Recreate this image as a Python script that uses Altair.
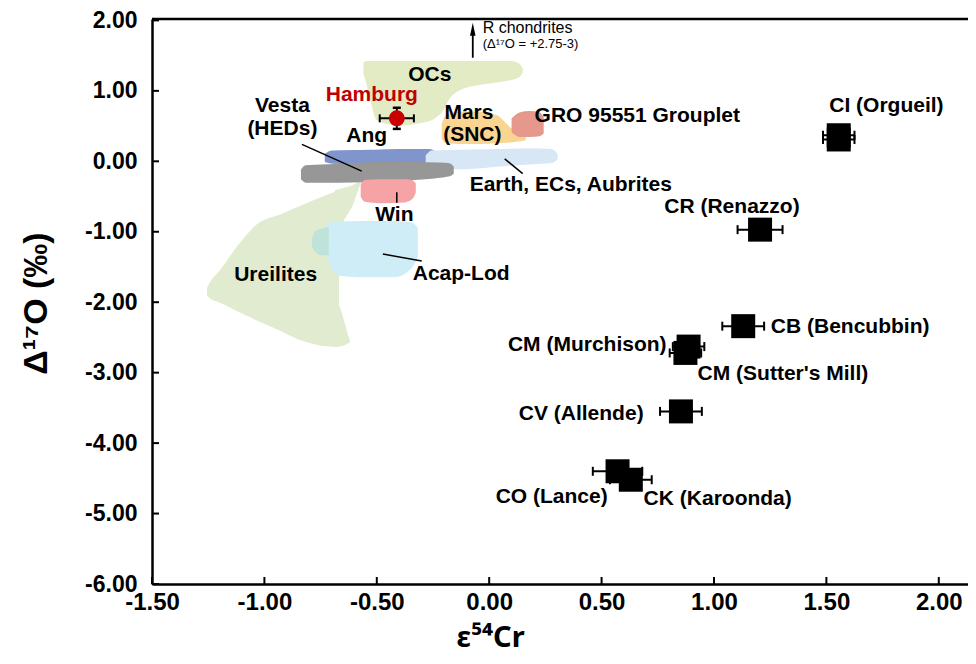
import altair as alt
import pandas as pd

W, H = 816, 565
X_DOMAIN = [-1.5, 2.13]
Y_DOMAIN = [-6.0, 2.02]
x_ticks = [-1.5, -1.0, -0.5, 0.0, 0.5, 1.0, 1.5, 2.0]
y_ticks = [-6.0, -5.0, -4.0, -3.0, -2.0, -1.0, 0.0, 1.0, 2.0]

# ---- carbonaceous chondrites (black squares, x error bars)
cc_x = [1.555, 1.555, 1.205, 1.13, 0.887, 0.873, 0.853, 0.571, 0.630]
cc_y = [0.37, 0.31, -0.97, -2.34, -2.63, -2.72, -3.55, -4.40, -4.52]
cc_err = [0.07, 0.07, 0.10, 0.093, 0.07, 0.07, 0.093, 0.11, 0.093]

# ---- Hamburg
ham_x = [-0.411]
ham_y = [0.61]
ham_xerr = [0.076]
ham_yerr = [0.15]

# ---- fields (x, top, bottom)
ure1_x = [-1.251, -1.238, -1.198, -1.109, -1.029, -0.931, -0.842, -0.753, -0.673]
ure1_top = [-1.80, -1.72, -1.57, -1.18, -0.90, -0.77, -0.65, -0.53, -0.43]
ure1_bot = [-1.90, -1.94, -1.99, -2.13, -2.25, -2.39, -2.52, -2.60, -2.62]
ure2_x = [-0.682, -0.656, -0.633, -0.611, -0.593, -0.576]
ure2_top = [-0.42, -0.40, -0.38, -0.36, -0.33, -0.30]
ure2_bot = [-1.00, -0.86, -0.74, -0.62, -0.46, -0.31]
ure3_x = [-0.682, -0.664, -0.647, -0.629, -0.624]
ure3_top = [-1.95, -2.12, -2.30, -2.50, -2.54]
ure3_bot = [-2.61, -2.61, -2.60, -2.57, -2.56]
acap_x = [-0.722, -0.70, -0.664, -0.576, -0.42, -0.362, -0.336, -0.322]
acap_top = [-0.93, -0.88, -0.87, -0.86, -0.86, -0.87, -0.90, -0.95]
acap_bot = [-1.30, -1.50, -1.61, -1.63, -1.63, -1.55, -1.45, -1.35]
teal_x = [-0.784, -0.771, -0.744, -0.718]
teal_top = [-1.10, -1.00, -0.97, -0.95]
teal_bot = [-1.20, -1.28, -1.32, -1.32]
ocs_x = [-0.555, -0.54, -0.52, -0.50, -0.45, -0.40, -0.30, -0.25, -0.21, -0.18, -0.12, 0.00, 0.10, 0.13, 0.145]
ocs_top = [1.40, 1.41, 1.41, 1.41, 1.41, 1.41, 1.41, 1.41, 1.41, 1.41, 1.41, 1.41, 1.41, 1.38, 1.31]
ocs_bot = [1.25, 1.08, 0.82, 0.60, 0.54, 0.52, 0.56, 0.61, 0.72, 0.90, 1.04, 1.12, 1.17, 1.20, 1.26]
mars_x = [-0.207, -0.189, -0.131, -0.042, 0.033, 0.091, 0.158]
mars_top = [0.52, 0.65, 0.69, 0.69, 0.64, 0.47, 0.36]
mars_bot = [0.32, 0.27, 0.26, 0.26, 0.27, 0.28, 0.31]
gro_x = [0.104, 0.136, 0.18, 0.224, 0.238]
gro_top = [0.60, 0.68, 0.70, 0.68, 0.62]
gro_bot = [0.42, 0.36, 0.36, 0.37, 0.40]
blue_x = [-0.727, -0.70, -0.531, -0.398, -0.264, -0.238]
blue_top = [0.10, 0.14, 0.15, 0.16, 0.16, 0.12]
blue_bot = [0.00, -0.02, -0.03, -0.03, -0.02, 0.00]
earth_x = [-0.278, -0.256, -0.131, 0.047, 0.18, 0.278, 0.30]
earth_top = [0.08, 0.14, 0.15, 0.16, 0.17, 0.16, 0.10]
earth_bot = [-0.05, -0.10, -0.10, -0.06, -0.03, -0.01, 0.03]
gray_x = [-0.833, -0.816, -0.664, -0.442, -0.22, -0.176, -0.162]
gray_top = [-0.12, -0.07, -0.05, -0.02, -0.03, -0.04, -0.08]
gray_bot = [-0.25, -0.29, -0.29, -0.27, -0.22, -0.20, -0.17]
win_x = [-0.567, -0.553, -0.487, -0.376, -0.344, -0.331]
win_top = [-0.33, -0.28, -0.27, -0.27, -0.28, -0.32]
win_bot = [-0.50, -0.56, -0.58, -0.57, -0.52, -0.44]

pieces = [
    ("01_ure1", ure1_x, ure1_top, ure1_bot, "#e1ebcf"),
    ("02_ure2", ure2_x, ure2_top, ure2_bot, "#e1ebcf"),
    ("03_ure3", ure3_x, ure3_top, ure3_bot, "#e1ebcf"),
    ("04_acap", acap_x, acap_top, acap_bot, "#cfedf6"),
    ("05_teal", teal_x, teal_top, teal_bot, "#bfe3d8"),
    ("06_ocs", ocs_x, ocs_top, ocs_bot, "#e2ebc4"),
    ("07_mars", mars_x, mars_top, mars_bot, "#fad592"),
    ("08_gro", gro_x, gro_top, gro_bot, "#e6988c"),
    ("09_blue", blue_x, blue_top, blue_bot, "#7f95cc"),
    ("10_earth", earth_x, earth_top, earth_bot, "#d8e7f6"),
    ("11_gray", gray_x, gray_top, gray_bot, "#979797"),
    ("12_win", win_x, win_top, win_bot, "#f6a3a6"),
]

# ---- leader lines
ln_x = [-0.833, 0.069, -0.411, -0.473]
ln_y = [0.24, 0.035, -0.44, -1.317]
ln_x2 = [-0.567, 0.149, -0.411, -0.30]
ln_y2 = [-0.14, -0.174, -0.59, -1.415]

# ---- R chondrites arrow
arr_x = [-0.073]
arr_y = [1.47]
arr_y2 = [1.86]
arr_head = [1.875]

# ---- labels
lab_c = ["OCs", "Hamburg", "Vesta", "(HEDs)", "Ang", "Mars", "(SNC)", "Win", "Ureilites",
         "CI (Orgueil)", "CR (Renazzo)"]
lab_c_x = [-0.264, -0.522, -0.92, -0.92, -0.545, -0.09, -0.075, -0.422, -0.95, 1.767, 1.08]
lab_c_y = [1.22, 0.94, 0.78, 0.46, 0.355, 0.69, 0.38, -0.76, -1.62, 0.79, -0.655]
lab_c_col = ["black", "#c00000"] + ["black"] * 9
lab_l = ["GRO 95551 Grouplet", "Earth, ECs, Aubrites", "Acap-Lod", "CB (Bencubbin)",
         "CM (Sutter's Mill)", "CK (Karoonda)"]
lab_l_x = [0.202, -0.087, -0.34, 1.253, 0.927, 0.687]
lab_l_y = [0.65, -0.34, -1.60, -2.35, -3.02, -4.80]
lab_r = ["CM (Murchison)", "CV (Allende)", "CO (Lance)"]
lab_r_x = [0.789, 0.687, 0.527]
lab_r_y = [-2.61, -3.59, -4.76]
note = ["R chondrites", "(Δ¹⁷O = +2.75-3)"]
note_x = [-0.029, -0.029]
note_y = [1.89, 1.66]
note_size = [16, 13]

FONT = "Liberation Sans"
TFONT = "Liberation Sans, Noto Sans"
XTFONT = "Noto Sans, Liberation Sans"

xs = alt.Scale(domain=X_DOMAIN, nice=False, zero=False)
ys = alt.Scale(domain=Y_DOMAIN, nice=False, zero=False)
lab_expr = "(datum.value < 0 ? '-' : '') + format(abs(datum.value), '.2f')"

xaxis = alt.Axis(values=x_ticks, labelExpr=lab_expr, labelFont=FONT, labelFontSize=24,
                 labelFontWeight="bold", labelColor="black", labelPadding=6, ticks=False,
                 domainColor="black", domainWidth=2.5, grid=False, labelFlush=False,
                 labelOverlap=False, title="ε⁵⁴Cr", titleFont=XTFONT, titleFontSize=29,
                 titleFontWeight="bold", titleColor="black", titleX=338, titleY=53,
                 titleBaseline="middle", titleAlign="center")
yaxis = alt.Axis(values=y_ticks, labelExpr=lab_expr, labelFont=FONT, labelFontSize=23,
                 labelFontWeight="bold", labelColor="black", labelPadding=15, ticks=False,
                 domainColor="black", domainWidth=2.5, grid=False, labelFlush=False,
                 labelOverlap=False, title="Δ¹⁷O (‰)", titleFont=TFONT, titleFontSize=34,
                 titleFontWeight="bold", titleColor="black", titleX=-116, titleY=284,
                 titleBaseline="middle", titleAlign="center", titleAngle=270)


def X(field):
    return alt.X(field, scale=xs, axis=xaxis)


def Y(field):
    return alt.Y(field, scale=ys, axis=yaxis)


rows = []
for key, px, pt, pb, col in pieces:
    for a, b, c in zip(px, pt, pb):
        rows.append(dict(piece=key, x=a, top=b, bot=c, color=col))
regions = pd.DataFrame(rows)

area = alt.Chart(regions).mark_area(interpolate="monotone", strokeWidth=2, strokeJoin="round",
                                    opacity=1).encode(
    x=X("x:Q"), y=Y("top:Q"), y2="bot:Q",
    color=alt.Color("color:N", scale=None),
    stroke=alt.Stroke("color:N", scale=None),
    detail="piece:N",
)

lines_df = pd.DataFrame(dict(x=ln_x, y=ln_y, x2=ln_x2, y2=ln_y2))
leaders = alt.Chart(lines_df).mark_rule(color="black", strokeWidth=1.5).encode(
    x=X("x:Q"), y=Y("y:Q"), x2="x2:Q", y2="y2:Q")

xt = alt.Chart(pd.DataFrame(dict(x=x_ticks))).mark_rule(color="black", strokeWidth=2).encode(
    x=X("x:Q"), y=alt.value(H), y2=alt.value(H - 7))
yt = alt.Chart(pd.DataFrame(dict(y=y_ticks))).mark_rule(color="black", strokeWidth=2).encode(
    y=Y("y:Q"), x=alt.value(0), x2=alt.value(7))
top_line = alt.Chart(pd.DataFrame(dict(v=[0]))).mark_rule(color="black", strokeWidth=2.5).encode(
    x=alt.value(0), x2=alt.value(W), y=alt.value(0))

arr_df = pd.DataFrame(dict(x=arr_x, y=arr_y, y2=arr_y2, h=arr_head))
arrow = alt.Chart(arr_df).mark_rule(color="black", strokeWidth=1.8).encode(
    x=X("x:Q"), y=Y("y:Q"), y2="y2:Q")
arrow_head = alt.Chart(arr_df).mark_point(shape="M0,-1L0.42,1L-0.42,1Z", size=170, filled=True,
                                          color="black", opacity=1).encode(
    x=X("x:Q"), y=Y("h:Q"))

cc = pd.DataFrame(dict(x=cc_x, y=cc_y, err=cc_err))
cc["lo"] = cc["x"] - cc["err"]
cc["hi"] = cc["x"] + cc["err"]
caps = pd.concat([cc[["lo", "y"]].rename(columns={"lo": "x"}),
                  cc[["hi", "y"]].rename(columns={"hi": "x"})])
cc_bars = alt.Chart(cc).mark_rule(color="black", strokeWidth=2).encode(
    x=X("lo:Q"), x2="hi:Q", y=Y("y:Q"))
cc_caps = alt.Chart(caps).mark_tick(orient="vertical", color="black", thickness=2, size=9,
                                    opacity=1).encode(x=X("x:Q"), y=Y("y:Q"))
cc_sq = alt.Chart(cc).mark_square(size=576, color="black", opacity=1).encode(
    x=X("x:Q"), y=Y("y:Q"))

ham = pd.DataFrame(dict(x=ham_x, y=ham_y, xe=ham_xerr, ye=ham_yerr))
ham["xlo"] = ham["x"] - ham["xe"]
ham["xhi"] = ham["x"] + ham["xe"]
ham["ylo"] = ham["y"] - ham["ye"]
ham["yhi"] = ham["y"] + ham["ye"]
ham_hx = alt.Chart(ham).mark_rule(color="black", strokeWidth=2).encode(
    x=X("xlo:Q"), x2="xhi:Q", y=Y("y:Q"))
ham_hy = alt.Chart(ham).mark_rule(color="black", strokeWidth=2).encode(
    x=X("x:Q"), y=Y("ylo:Q"), y2="yhi:Q")
hcap_x = pd.DataFrame(dict(x=list(ham["xlo"]) + list(ham["xhi"]), y=ham_y * 2))
hcap_y = pd.DataFrame(dict(x=ham_x * 2, y=list(ham["ylo"]) + list(ham["yhi"])))
ham_cx = alt.Chart(hcap_x).mark_tick(orient="vertical", color="black", thickness=2, size=8,
                                     opacity=1).encode(x=X("x:Q"), y=Y("y:Q"))
ham_cy = alt.Chart(hcap_y).mark_tick(orient="horizontal", color="black", thickness=2.5, size=8,
                                     opacity=1).encode(x=X("x:Q"), y=Y("y:Q"))
ham_pt = alt.Chart(ham).mark_circle(size=254, color="#c80000", opacity=1).encode(
    x=X("x:Q"), y=Y("y:Q"))


def text_layer(labels, lx, ly, align, colors=None, size=21, weight="bold"):
    df = pd.DataFrame(dict(t=labels, x=lx, y=ly,
                           c=colors if colors is not None else ["black"] * len(labels)))
    return alt.Chart(df).mark_text(align=align, baseline="middle", font=FONT, fontSize=size,
                                   fontWeight=weight).encode(
        x=X("x:Q"), y=Y("y:Q"), text="t:N", color=alt.Color("c:N", scale=None))


t_c = text_layer(lab_c, lab_c_x, lab_c_y, "center", lab_c_col)
t_l = text_layer(lab_l, lab_l_x, lab_l_y, "left")
t_r = text_layer(lab_r, lab_r_x, lab_r_y, "right")
t_n1 = text_layer(note[:1], note_x[:1], note_y[:1], "left", size=note_size[0], weight="normal")
t_n2 = text_layer(note[1:], note_x[1:], note_y[1:], "left", size=note_size[1], weight="normal")

chart = alt.layer(
    area, leaders, xt, yt, top_line, arrow, arrow_head,
    cc_bars, cc_caps, cc_sq, ham_hx, ham_hy, ham_cx, ham_cy, ham_pt,
    t_c, t_l, t_r, t_n1, t_n2,
).properties(
    width=W, height=H, background="white",
    padding={"left": 144, "top": 11, "right": 0, "bottom": 72},
    autosize=alt.AutoSizeParams(type="none"),
).configure_view(stroke=None)

chart.save("out.html", embed_options={"renderer": "svg", "actions": False})
